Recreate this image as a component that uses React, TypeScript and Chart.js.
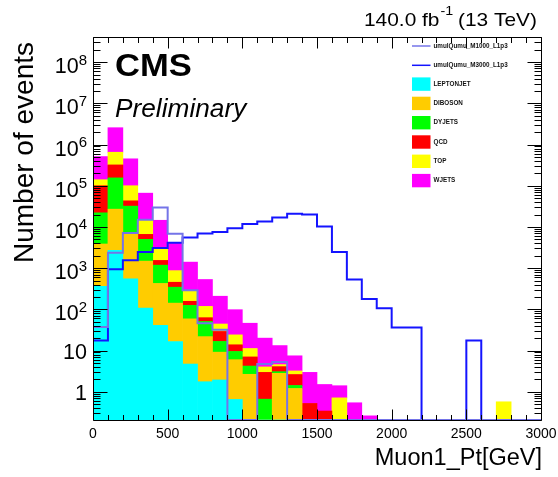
import React, { useEffect, useRef } from 'react';
import { Chart, registerables } from 'chart.js';

Chart.register(...registerables);

// ---------------- data ----------------
const BIN_LOW = [
  0, 100, 200, 300, 400, 500, 600, 700, 800, 900,
  1000, 1100, 1200, 1300, 1400, 1500, 1600, 1700, 1800, 1900,
  2000, 2100, 2200, 2300, 2400, 2500, 2600, 2700, 2800, 2900,
];
const BIN_WIDTH = 100;

const LEPTONJET = [363, 2700, 550, 107, 41, 16.5, 4.7, 1.75, 1.93, 0.65, 0, 0, 0, 0, 0, 0, 0, 0, 0, 0, 0, 0, 0, 0, 0, 0, 0, 0, 0, 0];
const DIBOSON = [3490, 24300, 6450, 1373, 384, 125, 54, 20, 7.2, 5.35, 2.65, 0, 2.8, 1.2, 0, 0, 0, 0, 0, 0, 0, 0, 0, 0, 0, 0, 0, 0, 0, 0];
const DYJETS = [18150, 128000, 25000, 3520, 755, 203, 66, 29, 7.5, 3.5, 1.55, 0.66, 0.27, 0.22, 0, 0, 0, 0, 0, 0, 0, 0, 0, 0, 0, 0, 0, 0, 0, 0];
const QCD = [78000, 165000, 11000, 1600, 360, 110, 32, 12, 12.4, 4.3, 2.8, 2.29, 1.0, 1.2, 0.52, 0.34, 0, 0, 0, 0, 0, 0, 0, 0, 0, 0, 0, 0, 0, 0];
const TOP = [40000, 330000, 57000, 7900, 1460, 415, 128, 55, 15, 10.2, 4.2, 1.05, 0.48, 0.58, 0, 0, 0.71, 0, 0, 0, 0, 0, 0, 0, 0, 0, 0, 0.57, 0, 0];
const WJETS = [370000, 1910000, 350000, 51500, 11500, 3280, 1115, 412, 164, 74, 34.8, 16, 8.65, 4.25, 2.43, 1.16, 0.69, 0.54, 0.26, 0, 0, 0, 0, 0, 0, 0, 0, 0, 0, 0];

const SIG_M1000 = [37, 2350, 7100, 15000, 29600, 6800, 290, 46, 32, 0, 0, 4.7, 5.3, 0, 0, 0, 0, 0, 0, 0, 0, 0, 0, 0, 0, 0, 0, 0, 0, 0];
const SIG_M3000 = [17.5, 940, 1560, 2450, 3100, 4150, 5500, 6900, 7560, 9300, 11700, 13500, 17000, 21000, 20000, 10200, 2460, 530, 178, 106, 36, 36, 0, 0, 0, 17.5, 0, 0, 0, 0];

const BKG_LABELS = ['LEPTONJET', 'DIBOSON', 'DYJETS', 'QCD', 'TOP', 'WJETS'];
const BKG_SERIES = [LEPTONJET, DIBOSON, DYJETS, QCD, TOP, WJETS];
const BKG_COLORS = ['#00ffff', '#ffcc00', '#00ff00', '#ff0000', '#ffff00', '#ff00ff'];

const SIG_LABELS = ['umulQumu_M1000_L1p3', 'umulQumu_M3000_L1p3'];
const SIG_SERIES = [SIG_M1000, SIG_M3000];
const SIG_COLORS = ['#7474e8', '#1414ff'];

const X_TICK_VALUES = [0, 500, 1000, 1500, 2000, 2500, 3000];
const X_TICK_LABELS = ['0', '500', '1000', '1500', '2000', '2500', '3000'];
const Y_TICK_EXPONENTS = [0, 1, 2, 3, 4, 5, 6, 7, 8];

const X_MIN = 0;
const X_MAX = 3000;
const Y_MIN = 0.206;
const Y_MAX = 4.07e8;

const SANS = '"Liberation Sans", Arial, Helvetica, sans-serif';

function stretchedText(ctx: CanvasRenderingContext2D, text: string, x: number, y: number, sx: number) {
  ctx.save();
  ctx.translate(x, y);
  ctx.scale(sx, 1);
  ctx.fillText(text, 0, 0);
  ctx.restore();
}

function frameEdges(a: any) {
  return {
    L: Math.round(a.left) + 0.5,
    R: Math.round(a.right) + 0.5,
    T: Math.round(a.top) + 0.5,
    B: Math.round(a.bottom) + 0.5,
  };
}

// ---------------- overlay (frame, ticks, texts, legend) ----------------
const overlay = {
  id: 'rootOverlay',
  beforeDatasetsDraw(chart: any) {
    const { ctx, chartArea: a } = chart;
    const { L, R, B } = frameEdges(a);
    ctx.save();
    ctx.strokeStyle = '#000';
    ctx.lineWidth = 1;
    ctx.beginPath();
    ctx.moveTo(L, B);
    ctx.lineTo(R, B);
    ctx.stroke();
    ctx.restore();
  },
  afterDraw(chart: any) {
    const { ctx, chartArea: a, scales } = chart;
    const xs = scales.x;
    const ys = scales.y;
    ctx.save();

    // frame (left, top, right)
    ctx.strokeStyle = '#000';
    ctx.lineWidth = 1;
    const { L, R, T, B } = frameEdges(a);
    ctx.beginPath();
    ctx.moveTo(L, B);
    ctx.lineTo(L, T);
    ctx.lineTo(R, T);
    ctx.lineTo(R, B);
    ctx.stroke();

    // x ticks (bottom and top, inside)
    ctx.beginPath();
    for (let v = X_MIN; v <= X_MAX; v += 100) {
      const px = Math.round(xs.getPixelForValue(v)) + 0.5;
      const len = v % 500 === 0 ? 11 : 5.5;
      ctx.moveTo(px, B);
      ctx.lineTo(px, B - len);
      ctx.moveTo(px, T);
      ctx.lineTo(px, T + len);
    }
    // y ticks (left and right, inside)
    for (let e = -1; e <= 8; e++) {
      for (let m = 1; m <= 9; m++) {
        const v = m * Math.pow(10, e);
        if (v < Y_MIN || v > Y_MAX) continue;
        const py = Math.round(ys.getPixelForValue(v)) + 0.5;
        const len = m === 1 ? 14 : 7;
        ctx.moveTo(L, py);
        ctx.lineTo(L + len, py);
        ctx.moveTo(R, py);
        ctx.lineTo(R - len, py);
      }
    }
    ctx.stroke();

    ctx.fillStyle = '#000';
    // x tick labels
    ctx.font = `14px ${SANS}`;
    ctx.textAlign = 'center';
    ctx.textBaseline = 'alphabetic';
    X_TICK_VALUES.forEach((v, i) => {
      ctx.fillText(X_TICK_LABELS[i], xs.getPixelForValue(v), a.bottom + 18);
    });

    // y tick labels with superscripts
    const labelRight = a.left - 6;
    Y_TICK_EXPONENTS.forEach((e) => {
      const py = ys.getPixelForValue(Math.pow(10, e));
      ctx.textAlign = 'right';
      if (e === 0 || e === 1) {
        ctx.font = `21.5px ${SANS}`;
        ctx.fillText(e === 0 ? '1' : '10', labelRight, py + 8);
      } else {
        ctx.font = `15px ${SANS}`;
        const sup = String(e);
        const sw = ctx.measureText(sup).width;
        ctx.fillText(sup, labelRight, py + 2.5);
        ctx.font = `21.5px ${SANS}`;
        ctx.fillText('10', labelRight - sw, py + 11);
      }
    });

    // axis titles
    ctx.textAlign = 'right';
    ctx.font = `23.5px ${SANS}`;
    ctx.fillText('Muon1_Pt[GeV]', a.right + 1, 465);

    ctx.save();
    ctx.translate(33, 263);
    ctx.rotate(-Math.PI / 2);
    ctx.textAlign = 'left';
    ctx.font = `28px ${SANS}`;
    ctx.fillText('Number of events', 0, 0);
    ctx.restore();

    // luminosity title (slightly wide glyphs as in the ROOT output)
    {
      const sx = 1.1;
      const big = `19px ${SANS}`;
      const small = `13px ${SANS}`;
      const p1 = '140.0 fb';
      const p2 = '-1';
      const p3 = ' (13 TeV)';
      ctx.font = big;
      const w1 = ctx.measureText(p1).width * sx;
      const w3 = ctx.measureText(p3).width * sx;
      ctx.font = small;
      const w2 = ctx.measureText(p2).width * sx;
      const right = 537;
      const x0 = right - (w1 + w2 + w3);
      ctx.textAlign = 'left';
      ctx.font = big;
      stretchedText(ctx, p1, x0, 26, sx);
      ctx.font = small;
      stretchedText(ctx, p2, x0 + w1 + 1, 15, sx);
      ctx.font = big;
      stretchedText(ctx, p3, x0 + w1 + w2, 26, sx);
    }

    // CMS / Preliminary
    ctx.textAlign = 'left';
    ctx.font = `bold 32px ${SANS}`;
    stretchedText(ctx, 'CMS', 115, 76, 1.08);
    ctx.font = `italic 25px ${SANS}`;
    stretchedText(ctx, 'Preliminary', 115, 117, 1.05);

    // legend
    const lx0 = 412;
    const lx1 = 430.5;
    const tx = 433.5;
    const y0 = 46;
    const dy = 19.3;
    ctx.font = `bold 6.3px ${SANS}`;
    ctx.textBaseline = 'middle';
    let row = 0;
    SIG_LABELS.forEach((lab, i) => {
      const cy = y0 + dy * row;
      ctx.strokeStyle = SIG_COLORS[i];
      ctx.lineWidth = 1.5;
      ctx.beginPath();
      ctx.moveTo(lx0, cy);
      ctx.lineTo(lx1, cy);
      ctx.stroke();
      ctx.fillStyle = '#111';
      ctx.fillText(lab, tx, cy);
      row++;
    });
    BKG_LABELS.forEach((lab, i) => {
      const cy = y0 + dy * row - 0.5;
      ctx.fillStyle = BKG_COLORS[i];
      ctx.fillRect(lx0, cy - 6.7, lx1 - lx0, 13.4);
      ctx.fillStyle = '#111';
      ctx.fillText(lab, tx, cy);
      row++;
    });

    ctx.restore();
  },
};

export default function App() {
  const ref = useRef<HTMLCanvasElement>(null);

  useEffect(() => {
    const canvas = ref.current;
    if (!canvas) return;

    const barSets = BKG_SERIES.map((series, i) => ({
      type: 'bar' as const,
      label: BKG_LABELS[i],
      data: series.map((v, j) => ({ x: BIN_LOW[j] + BIN_WIDTH / 2, y: v })),
      backgroundColor: BKG_COLORS[i],
      borderWidth: 0,
      barPercentage: 1,
      categoryPercentage: 1,
      xAxisID: 'x',
      yAxisID: 'y',
      order: 1,
    }));

    // empty bins of the signal outlines are drawn along the lower frame, as ROOT does
    const lineSets = SIG_SERIES.map((series, i) => {
      const pts = series.map((v, j) => ({ x: BIN_LOW[j], y: v > 0 ? v : Y_MIN }));
      const last = series[series.length - 1];
      pts.push({ x: BIN_LOW[BIN_LOW.length - 1] + BIN_WIDTH, y: last > 0 ? last : Y_MIN });
      return {
        type: 'line' as const,
        label: SIG_LABELS[i],
        data: pts,
        borderColor: SIG_COLORS[i],
        backgroundColor: SIG_COLORS[i],
        borderWidth: 2,
        pointRadius: 0,
        stepped: 'before' as const,
        fill: false,
        tension: 0,
        xAxisID: 'x',
        yAxisID: 'y2',
        order: 0,
      };
    });

    const chart = new Chart(canvas, {
      type: 'bar',
      data: { datasets: [...barSets, ...lineSets] as any },
      options: {
        animation: false,
        responsive: false,
        maintainAspectRatio: false,
        devicePixelRatio: 1,
        layout: { padding: { left: 93, right: 17, top: 37, bottom: 57 } },
        plugins: {
          legend: { display: false },
          tooltip: { enabled: false },
          title: { display: false },
        },
        scales: {
          x: {
            type: 'linear',
            min: X_MIN,
            max: X_MAX,
            stacked: true,
            display: false,
            bounds: 'data',
            offset: false,
          },
          y: {
            type: 'logarithmic',
            min: Y_MIN,
            max: Y_MAX,
            stacked: true,
            display: false,
            bounds: 'data',
          },
          y2: {
            type: 'logarithmic',
            min: Y_MIN,
            max: Y_MAX,
            display: false,
            bounds: 'data',
          },
        },
      } as any,
      plugins: [overlay],
    });

    return () => chart.destroy();
  }, []);

  return (
    <div style={{ position: 'absolute', left: 0, top: 0, width: 558, height: 477, background: '#fff' }}>
      <canvas ref={ref} width={558} height={477} style={{ display: 'block', width: 558, height: 477 }} />
    </div>
  );
}
